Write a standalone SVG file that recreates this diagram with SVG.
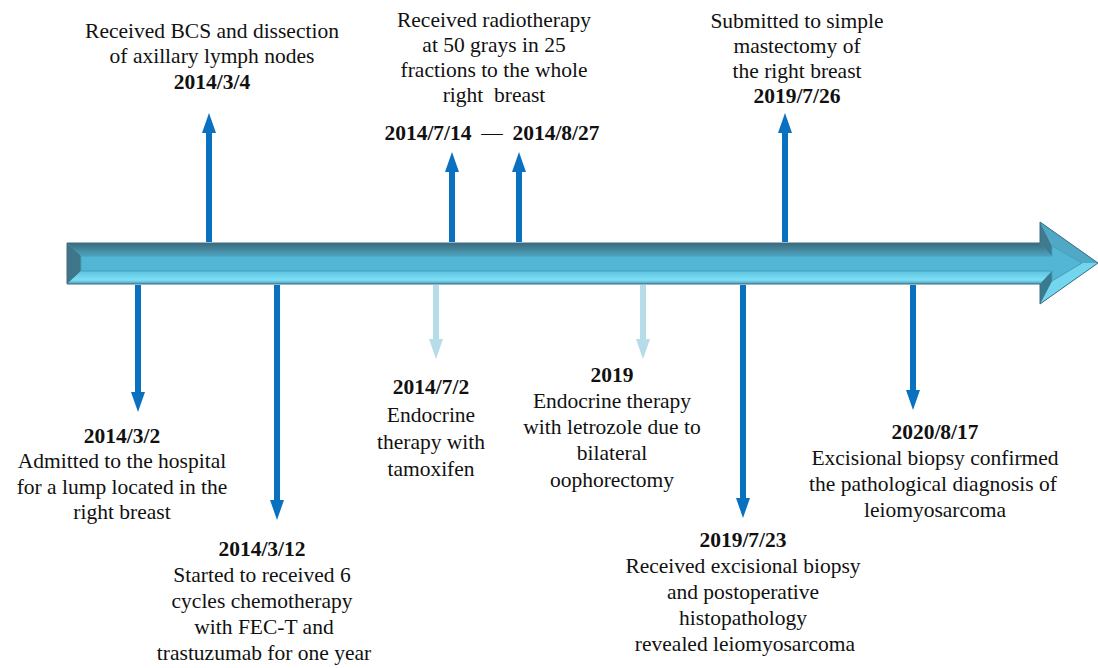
<svg xmlns="http://www.w3.org/2000/svg" width="1098" height="668" viewBox="0 0 1098 668" font-family="'Liberation Serif', 'DejaVu Serif', serif">
<style>
text{font-family:'Liberation Serif','DejaVu Serif',serif;font-size:21.5px;fill:#111;text-anchor:middle}
.b{font-weight:bold}
.dk{stroke:#0a70c0;stroke-width:6;fill:none}
.lt{stroke:#b5dce8;stroke-width:6;fill:none}
</style>
<defs>
<marker id="hd" viewBox="0 0 20 14" refX="0" refY="7" markerWidth="20" markerHeight="14" markerUnits="userSpaceOnUse" orient="auto"><path d="M0,0 L20,7 L0,14 z" fill="#0a70c0"/></marker>
<marker id="hl" viewBox="0 0 20 14" refX="0" refY="7" markerWidth="20" markerHeight="14" markerUnits="userSpaceOnUse" orient="auto"><path d="M0,0 L20,7 L0,14 z" fill="#b5dce8"/></marker>
<linearGradient id="gt" x1="0" y1="0" x2="0" y2="1"><stop offset="0" stop-color="#3a6a7c"/><stop offset="1" stop-color="#4ea4bf"/></linearGradient>
<linearGradient id="gb" x1="0" y1="0" x2="0" y2="1"><stop offset="0" stop-color="#5cc3df"/><stop offset="0.7" stop-color="#7fdff6"/><stop offset="1" stop-color="#4d9cb6"/></linearGradient>
</defs>
<g id="timeline">
<polygon points="67,243 1040,243 1040,222 1098,263 1040,304 1040,284 67,284" fill="#52b6d4"/>
<polygon points="67,243 1040,243 1052,256 81,256" fill="url(#gt)"/>
<polygon points="67,243 81,256 81,271 67,284" fill="#3f7689"/>
<polygon points="67,284 81,271 1052,271 1040,284" fill="url(#gb)"/>
<polygon points="1040,243 1040,222 1052,246 1052,256" fill="#3f7a8e"/>
<polygon points="1040,222 1098,263 1082,263 1052,246" fill="#4fa9c4"/>
<polygon points="1098,263 1040,304 1052,281 1082,263" fill="#74d6ee"/>
<polygon points="1040,304 1040,284 1052,271 1052,281" fill="#3a7a8e"/>
<polygon points="81,256 1052,256 1052,246 1082,263 1052,281 1052,271 81,271" fill="#52b6d4" stroke="#469fbb" stroke-width="1"/>
<polygon points="67,243 1040,243 1040,222 1098,263 1040,304 1040,284 67,284" fill="none" stroke="#3f6c80" stroke-width="1"/>
</g>
<g id="connectors">
<line class="dk" x1="209" y1="242" x2="209" y2="133" marker-end="url(#hd)"/>
<line class="dk" x1="452" y1="242" x2="452" y2="172" marker-end="url(#hd)"/>
<line class="dk" x1="519" y1="242" x2="519" y2="172" marker-end="url(#hd)"/>
<line class="dk" x1="785" y1="242" x2="785" y2="133" marker-end="url(#hd)"/>
<line class="dk" x1="138" y1="285" x2="138" y2="392" marker-end="url(#hd)"/>
<line class="dk" x1="277" y1="285" x2="277" y2="500" marker-end="url(#hd)"/>
<line class="lt" x1="436" y1="285" x2="436" y2="339" marker-end="url(#hl)"/>
<line class="lt" x1="643" y1="285" x2="643" y2="339" marker-end="url(#hl)"/>
<line class="dk" x1="743" y1="285" x2="743" y2="498" marker-end="url(#hd)"/>
<line class="dk" x1="913" y1="285" x2="913" y2="390" marker-end="url(#hd)"/>
</g>
<g id="n-bcs">
<text x="212" y="38">Received BCS and dissection</text>
<text x="212" y="63">of axillary lymph nodes</text>
<text class="b" x="212" y="89">2014/3/4</text>
</g>
<g id="n-radio">
<text x="494" y="27">Received radiotherapy</text>
<text x="494" y="52">at 50 grays in 25</text>
<text x="494" y="77">fractions to the whole</text>
<text x="494" y="102" xml:space="preserve">right  breast</text>
<text class="b" x="428" y="140">2014/7/14</text>
<text x="492" y="140">—</text>
<text class="b" x="556" y="140">2014/8/27</text>
</g>
<g id="n-mast">
<text x="797" y="28">Submitted to simple</text>
<text x="797" y="53">mastectomy of</text>
<text x="797" y="78">the right breast</text>
<text class="b" x="797" y="103">2019/7/26</text>
</g>
<g id="n-admit">
<text class="b" x="122" y="443">2014/3/2</text>
<text x="122" y="468">Admitted to the hospital</text>
<text x="122" y="494">for a lump located in the</text>
<text x="122" y="519">right breast</text>
</g>
<g id="n-chemo">
<text class="b" x="262" y="556">2014/3/12</text>
<text x="262" y="582">Started to received 6</text>
<text x="262" y="608">cycles chemotherapy</text>
<text x="264" y="634">with FEC-T and</text>
<text x="264" y="660">trastuzumab for one year</text>
</g>
<g id="n-tamox">
<text class="b" x="431" y="394">2014/7/2</text>
<text x="431" y="422">Endocrine</text>
<text x="431" y="449">therapy with</text>
<text x="431" y="476">tamoxifen</text>
</g>
<g id="n-letro">
<text class="b" x="612" y="382">2019</text>
<text x="612" y="408">Endocrine therapy</text>
<text x="612" y="434">with letrozole due to</text>
<text x="612" y="460">bilateral</text>
<text x="612" y="487">oophorectomy</text>
</g>
<g id="n-excision">
<text class="b" x="743" y="547">2019/7/23</text>
<text x="743" y="573">Received excisional biopsy</text>
<text x="743" y="599">and postoperative</text>
<text x="743" y="625">histopathology</text>
<text x="745" y="651">revealed leiomyosarcoma</text>
</g>
<g id="n-confirm">
<text class="b" x="935" y="439">2020/8/17</text>
<text x="935" y="465">Excisional biopsy confirmed</text>
<text x="933" y="491">the pathological diagnosis of</text>
<text x="935" y="517">leiomyosarcoma</text>
</g>
</svg>
